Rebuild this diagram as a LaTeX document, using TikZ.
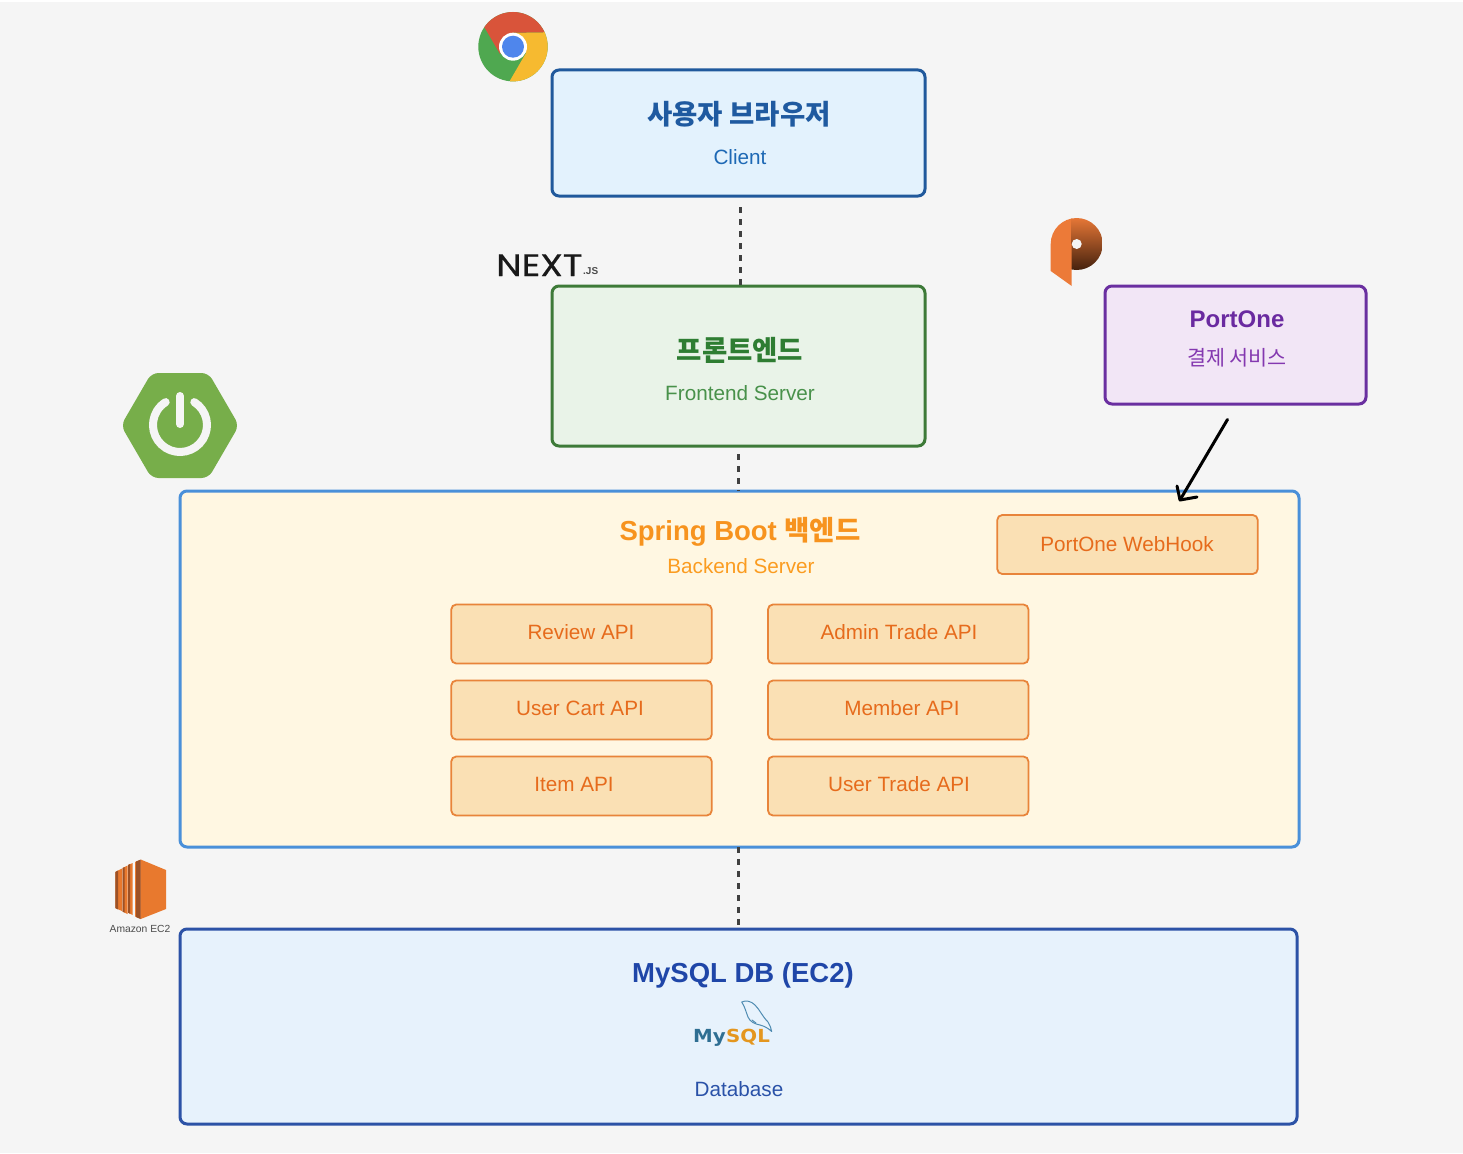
\documentclass[tikz,border=0pt]{standalone}
\usepackage{fontspec}
\setmainfont{Liberation Sans}
\newfontfamily\kr{Noto Sans CJK KR}
\newfontfamily\nextfont[FakeStretch=1.17,FakeBold=0.6]{Poppins}
\newfontfamily\mysqlfont[FakeStretch=1.1]{DejaVu Sans}
\usetikzlibrary{calc}
\definecolor{bg}{HTML}{F5F5F5}
\definecolor{clientfill}{HTML}{E3F2FD}
\definecolor{clientline}{HTML}{20599C}
\definecolor{clienttitle}{HTML}{1F5AA0}
\definecolor{clienttext}{HTML}{1E69B5}
\definecolor{frontfill}{HTML}{E9F3E8}
\definecolor{frontline}{HTML}{3D7A38}
\definecolor{fronttitle}{HTML}{2E7D32}
\definecolor{fronttext}{HTML}{48914A}
\definecolor{payfill}{HTML}{F2E6F6}
\definecolor{payline}{HTML}{6A2FA0}
\definecolor{paytitle}{HTML}{6A2AA0}
\definecolor{paytext}{HTML}{8438B0}
\definecolor{backfill}{HTML}{FFF7E2}
\definecolor{backline}{HTML}{4A90D9}
\definecolor{backtitle}{HTML}{F7931E}
\definecolor{backtext}{HTML}{FB9C20}
\definecolor{apifill}{HTML}{FAE0B4}
\definecolor{apiline}{HTML}{E8843A}
\definecolor{apitext}{HTML}{E66B1C}
\definecolor{dbfill}{HTML}{E7F2FC}
\definecolor{dbline}{HTML}{2C52A6}
\definecolor{dbtitle}{HTML}{1F46A8}
\definecolor{dbtext}{HTML}{2A52A8}
\definecolor{ec2o}{HTML}{E8792E}
\definecolor{ec2d}{HTML}{9C5126}
\definecolor{chromeg}{RGB}{79,168,80}
\definecolor{chromey}{RGB}{246,186,48}
\definecolor{chromer}{RGB}{217,84,58}
\definecolor{chromeb}{RGB}{79,134,236}
\definecolor{poneo}{RGB}{236,122,56}
\definecolor{ponem}{RGB}{150,80,36}
\definecolor{poned}{RGB}{62,30,12}
\definecolor{springg}{RGB}{119,174,74}
\definecolor{mysqlblue}{RGB}{46,110,146}
\definecolor{mysqlorange}{RGB}{228,150,30}
\definecolor{dolphin}{RGB}{80,140,178}
\tikzset{
  panel/.style={draw,rounded corners=7pt,line width=3pt,inner sep=0pt,outer sep=0pt},
  apibox/.style={draw=apiline,fill=apifill,rounded corners=5pt,line width=1.8pt,inner sep=0pt,outer sep=0pt,minimum width=260.5pt,minimum height=59pt},
  titletext/.style={font=\fontsize{27.5}{30}\selectfont\bfseries,inner sep=0pt},
  subtext/.style={font=\fontsize{20.7}{24}\selectfont,inner sep=0pt},
  conn/.style={draw=black!75,line width=3pt,dash pattern=on 6pt off 6pt},
}
\begin{document}
\begin{tikzpicture}[x=1pt,y=-1pt]
\useasboundingbox (0,0) rectangle (1463,1153);
\fill[white] (0,0) rectangle (1463,1153);
\fill[bg] (0,2) rectangle (1463,1153);

% boxes
\node[panel,draw=clientline,fill=clientfill,minimum width=373pt,minimum height=126pt] (client) at (738.5,133) {};
\node[panel,draw=frontline,fill=frontfill,minimum width=373pt,minimum height=160pt] (front) at (738.5,366) {};
\node[panel,draw=payline,fill=payfill,minimum width=261pt,minimum height=118pt] (pay) at (1235.5,345) {};
\node[panel,draw=backline,fill=backfill,minimum width=1119pt,minimum height=356pt] (back) at (739.5,669) {};
\node[panel,draw=dbline,fill=dbfill,minimum width=1117pt,minimum height=195pt] (db) at (738.5,1026.5) {};

\node[apibox] (hook) at (1127.5,544.5) {};
\node[apibox] (review) at (581.5,634) {};
\node[apibox] (cart) at (581.5,710) {};
\node[apibox] (item) at (581.5,786) {};
\node[apibox] (admin) at (898.2,634) {};
\node[apibox] (member) at (898.2,710) {};
\node[apibox] (trade) at (898.2,786) {};

% texts
\node[titletext,text=clienttitle] (t1) at (739,114) {\kr 사용자 브라우저};
\node[subtext,text=clienttext] (t2) at (740,157) {Client};
\node[titletext,text=fronttitle] (t3) at (740,350) {\kr 프론트엔드};
\node[subtext,text=fronttext] (t4) at (740,393) {Frontend Server};
\node[inner sep=0pt,font=\fontsize{24}{28}\selectfont\bfseries,text=paytitle] (t5) at (1237,319) {PortOne};
\node[subtext,text=paytext] (t6) at (1237,358) {\kr 결제 서비스};
\node[titletext,text=backtitle] (t7) at (740,532) {Spring Boot {\kr 백엔드}};
\node[subtext,text=backtext] (t8) at (741,566) {Backend Server};
\node[subtext,text=apitext] (t9) at (1127,544) {PortOne WebHook};
\node[subtext,text=apitext] (t10) at (581,632) {Review API};
\node[subtext,text=apitext] (t11) at (580,708) {User Cart API};
\node[subtext,text=apitext] (t12) at (574,784) {Item API};
\node[subtext,text=apitext] (t13) at (899,632) {Admin Trade API};
\node[subtext,text=apitext] (t14) at (902,708) {Member API};
\node[subtext,text=apitext] (t15) at (899,784) {User Trade API};
\node[titletext,text=dbtitle] (t16) at (743,975) {MySQL DB (EC2)};
\node[subtext,text=dbtext] (t17) at (739,1089) {Database};

% connectors
\draw[conn] ([xshift=1.5pt,yshift=-11pt]client.south) -- ([xshift=1.5pt]front.north);
\draw[conn] ([yshift=-8pt]front.south) -- (front.south |- back.north);
\draw[conn] (back.south -| db.north) -- (db.north);
\coordinate (payout) at (1227.5,419.5);
\coordinate (hookin) at (1180,500);
\draw[black,line width=3pt,line cap=round,line join=round] (payout) -- (hookin);
\draw[black,line width=3pt,line cap=round,line join=round] (1177,486) -- (hookin) -- (1197,497);

% Chrome logo
\begin{scope}
\clip (513,46.7) circle (34.7);
\fill[chromeg] (470,0) rectangle (560,90);
\fill[chromey] (513,32.7) -- (560,32) -- (560,90) -- (510,90) -- (510,80.5) -- (526,53) -- cycle;
\fill[chromer] (513,32.7) -- (560,32) -- (560,0) -- (470,0) -- (470,10) -- (485,28.3) -- (500,54) -- cycle;
\end{scope}
\fill[white] (513,46.7) circle (14);
\fill[chromeb] (513,46.7) circle (11);

% Next.js logo
\node[inner sep=0pt,anchor=base west,font=\fontsize{31}{31}\selectfont\nextfont,text=black!90] (nextword) at (496,276) {NEXT};
\node[inner sep=0pt,anchor=base west,font=\fontsize{10}{10}\selectfont\bfseries,text=black!70] (nextsub) at (583,274) {.JS};

% PortOne logo
\begin{scope}
\clip (1076.7,244) circle (26);
\fill[poneo] (1050,218) rectangle (1072,244);
\shade[top color=poneo,middle color=ponem,bottom color=poned] (1071,216) rectangle (1103,272);
\end{scope}
\fill[poneo] (1050.7,244) -- (1050.7,271) -- (1071.7,286) -- (1071.7,244) -- cycle;
\fill[bg] (1076.7,244) circle (5);

% Spring logo
\fill[springg,rounded corners=7pt] (121,425.5) -- (151.5,373) -- (208.5,373) -- (239,425.5) -- (208.5,478) -- (151.5,478) -- cycle;
\draw[bg,line width=8pt,line cap=round] (194.3,402.1) arc (-58:238:27);
\draw[bg,line width=8pt,line cap=round] (180,396) -- (180,424);

% EC2 logo
\fill[ec2o] (115.3,872) -- (122,868.5) -- (122,911) -- (115.3,908) -- cycle;
\fill[ec2d] (115.3,872) -- (118,870.5) -- (118,909.5) -- (115.3,908) -- cycle;
\fill[ec2o] (122.5,868) -- (127.5,865.5) -- (127.5,914) -- (122.5,911.5) -- cycle;
\fill[ec2d] (122.5,868) -- (124.5,867) -- (124.5,912.5) -- (122.5,911.5) -- cycle;
\fill[ec2o] (128,865) -- (132.7,863) -- (132.7,915) -- (128,912.7) -- cycle;
\fill[ec2d] (128,865) -- (130,864) -- (130,913.7) -- (128,912.7) -- cycle;
\fill[ec2o] (135,862) -- (140.7,860) -- (140.7,919) -- (135,916.5) -- cycle;
\fill[ec2o] (140.7,859.5) -- (166,870) -- (166,909) -- (140.7,919) -- cycle;
\fill[ec2d] (136,861.5) -- (140.7,859.5) -- (140.7,919) -- (136,917) -- cycle;
\node[inner sep=0pt,font=\fontsize{10.3}{12}\selectfont,text=black!70] (ec2label) at (140,929) {Amazon EC2};

% MySQL logo
\node[inner sep=0pt,anchor=base east,font=\fontsize{18}{18}\selectfont\mysqlfont\bfseries,text=mysqlblue] (mysqla) at (726,1042) {My};
\node[inner sep=0pt,anchor=base west,font=\fontsize{18}{18}\selectfont\mysqlfont\bfseries,text=mysqlorange] (mysqlb) at (726,1042) {SQL};
\draw[dolphin,line width=1pt,line join=round,line cap=round] (741.7,1002) .. controls (746,1000) and (751,1001) .. (755,1005) .. controls (760,1010) and (762,1016) .. (768,1022) .. controls (770,1025) and (771,1028) .. (771.7,1031.5) .. controls (768,1028) and (764,1026) .. (760,1025) .. controls (755,1024) and (750,1022) .. (748,1017) .. controls (746,1012) and (745,1007) .. (741.7,1002);
\draw[dolphin,line width=1pt,line cap=round] (756,1023) -- (752,1020);
\end{tikzpicture}
\end{document}
